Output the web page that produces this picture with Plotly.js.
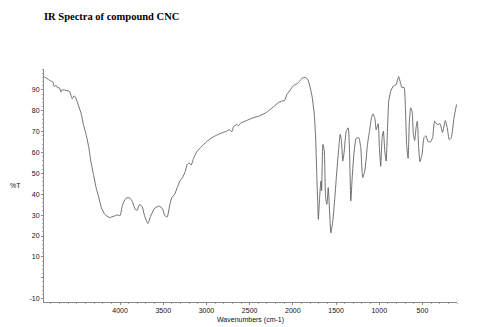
<!DOCTYPE html>
<html>
<head>
<meta charset="utf-8">
<script src="https://cdn.plot.ly/plotly-3.0.1.min.js"></script>
<style>html,body{margin:0;padding:0;background:#fff;}#chart{width:478px;height:327px;}</style>
</head>
<body>
<div id="chart"></div>
<script>
const wavenumbers = [4874,4808,4777,4762,4739,4724,4701,4685,4670,4615,4585,4554,4531,4516,4485,4447,4424,4393,4361,4338,4308,4277,4246,4216,4177,4124,4069,4031,4000,3969,3931,3893,3861,3823,3800,3777,3746,3715,3677,3646,3599,3546,3507,3484,3454,3423,3400,3368,3338,3307,3276,3246,3223,3200,3177,3146,3107,3061,2999,2923,2845,2768,2730,2707,2684,2646,2629,2606,2537,2461,2383,2306,2230,2167,2129,2098,2068,2029,1991,1953,1922,1890,1860,1829,1798,1775,1752,1737,1722,1712,1705,1690,1675,1667,1652,1636,1621,1606,1590,1575,1560,1537,1514,1491,1468,1452,1437,1422,1405,1382,1359,1344,1329,1313,1290,1267,1237,1214,1191,1167,1136,1113,1090,1072,1050,1036,1013,998,983,967,952,936,920,905,890,867,836,805,775,752,736,713,698,683,666,651,636,620,605,590,574,559,544,528,505,482,459,435,405,382,359,328,297,267,236,213,189,166,135,105];
const transmittance = [96.2,94.4,93.8,91.6,92.2,91,91,89,90,89.7,89.3,85.8,87.1,86.5,83,78.2,73.4,68.7,62.3,55.9,49.5,43.2,38.4,33.6,30.4,28.9,29.5,30.1,29.8,35.2,38.1,38.4,36.8,32.7,32.4,35,34.3,29.5,26,29.5,33.3,34.3,33,29.8,29.2,35.2,38.4,40,43.2,46.4,48,50.8,54.3,55,54,57.5,60.7,62.6,65.2,67.4,69,70.2,70.9,69.9,72.5,73.4,72.8,74,75.3,76.6,77.6,79.2,81.7,83.9,84.6,84.8,87.8,90,92.2,92.9,94.1,95.7,96,95.1,91,86.2,78.2,68,48,36,28,38.4,46.4,41.6,63.9,60.7,38.4,35.2,43.2,32,21.5,27.3,38.4,51.1,62.3,68.7,65.5,55.9,60.7,70.2,71.8,60.7,36.8,48,60.7,66.8,67.1,62.3,48,51.1,63.9,70.2,76.6,78.5,76.2,70.9,73.8,62.3,53.4,67.1,70.2,60.7,55.9,70.2,84.6,89.3,91.9,92.5,96.4,92.9,91,91.2,83,63.9,57.2,75,81.4,79.8,68.7,65.8,71.8,75,62.3,55.6,59.1,67.1,68,65.2,65.2,67.1,75,73.4,73.8,69.6,75.3,71.8,66.1,67.1,76.6,83];
const xTicks = [4000,3500,3000,2500,2000,1500,1000,500];
const yTicks = [-10,0,10,20,30,40,50,60,70,80,90];
const yTickText = ["-10","","10","20","30","40","50","60","70","80","90"];

const trace = {
  x: wavenumbers, y: transmittance, type: 'scatter', mode: 'lines',
  line: {color: '#606060', width: 0.9, shape: 'spline', smoothing: 0.5},
  hoverinfo: 'skip'
};
const tickFont = {family: 'Liberation Sans, Arial, sans-serif', size: 7, color: '#111'};
const layout = {
  width: 478, height: 327,
  margin: {l: 44, r: 21, t: 69, b: 25},
  paper_bgcolor: '#fff', plot_bgcolor: '#fff',
  showlegend: false,
  xaxis: {
    range: [4880, 100], showgrid: false, zeroline: false,
    showline: true, linecolor: '#888', linewidth: 1,
    tickvals: xTicks, ticks: 'outside', ticklen: 2, tickcolor: '#888',
    minor: {dtick: 100, ticks: 'outside', ticklen: 1, tickcolor: '#aaa', showgrid: false},
    tickfont: tickFont
  },
  yaxis: {
    range: [-11.6, 100], showgrid: false, zeroline: false,
    showline: true, linecolor: '#888', linewidth: 1,
    tickvals: yTicks, ticktext: yTickText, ticks: 'outside', ticklen: 2, tickcolor: '#888',
    minor: {dtick: 2, ticks: 'outside', ticklen: 1, tickcolor: '#aaa', showgrid: false},
    tickfont: tickFont
  },
  annotations: [
    {text: '<b>IR Spectra of compound CNC</b>', xref: 'paper', yref: 'paper',
     x: -0.004, y: 1.227, xanchor: 'left', yanchor: 'middle', showarrow: false,
     font: {family: 'Liberation Serif, Times New Roman, serif', size: 10.5, color: '#000'}},
    {text: '%T', xref: 'paper', yref: 'paper', x: -0.07, y: 0.5, xanchor: 'center', yanchor: 'middle',
     showarrow: false, font: tickFont},
    {text: 'Wavenumbers (cm-1)', xref: 'paper', yref: 'paper', x: 0.5, y: -0.05, xanchor: 'center', yanchor: 'top',
     showarrow: false, font: tickFont}
  ]
};
Plotly.newPlot('chart', [trace], layout, {displayModeBar: false, staticPlot: true});
</script>
</body>
</html>
